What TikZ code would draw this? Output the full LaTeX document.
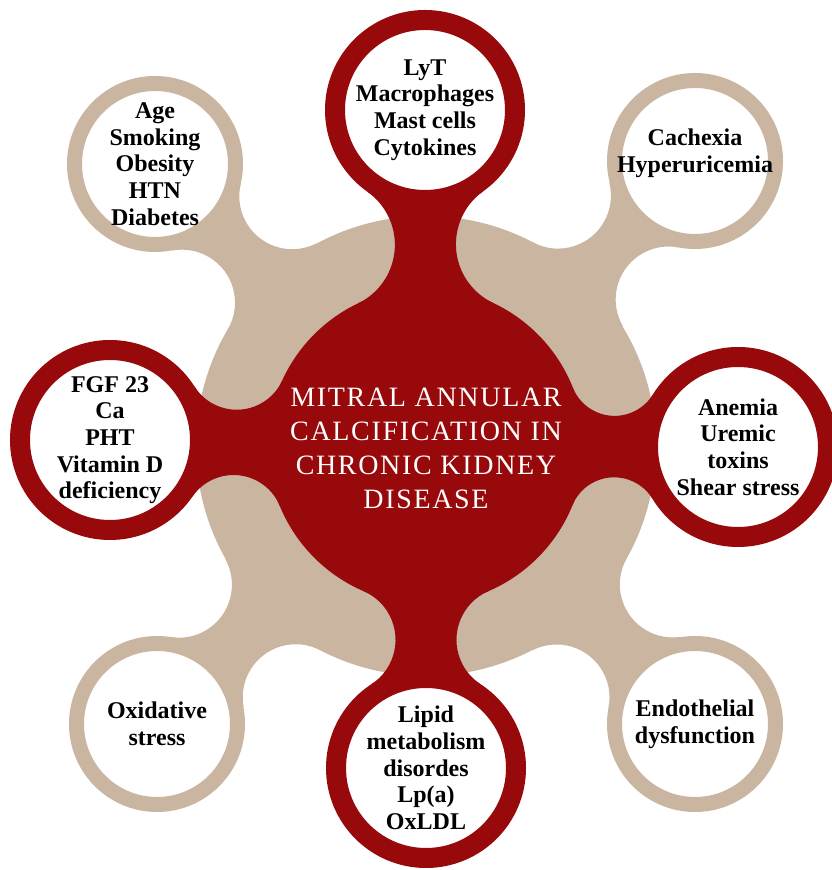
\documentclass[tikz,border=0pt]{standalone}
\usepackage{fontspec}
\setmainfont{Liberation Serif}
\usetikzlibrary{calc}

\definecolor{macred}{RGB}{152,9,12}
\definecolor{mactan}{RGB}{202,181,160}

\pgfdeclarelayer{tanback}
\pgfdeclarelayer{tanfront}
\pgfdeclarelayer{redback}
\pgfsetlayers{tanback,tanfront,redback,main}

% neck from a hub to a satellite, with concave fillets
% #1 colour, #2 hub, #3 hub radius, #4 satellite, #5 satellite radius, #6 fillet radius
\newcommand{\macneck}[6]{%
  \fill[#1] let \p1 = ($(#4)-(#2)$),
      \n1 = {atan2(\y1,\x1)},
      \n2 = {veclen(\x1/7.5,\y1/7.5)},
      \n3 = {acos(((#3+#6)^2+(\n2)^2-(#5+#6)^2)/(2*(\n2)*(#3+#6)))},
      \n4 = {180-acos(((#5+#6)^2+(\n2)^2-(#3+#6)^2)/(2*(\n2)*(#5+#6)))}
    in ($(#2)+(\n1+\n3:#3)$)
      arc[start angle=\n1+\n3+180, end angle=\n1+\n4+180, radius=#6]
      -- ($(#4)+(\n1-\n4:#5)$)
      arc[start angle=\n1-\n4+180, end angle=\n1-\n3+180, radius=#6]
      -- cycle;}

\begin{document}
\begin{tikzpicture}[x=7.5pt, y=7.5pt,
  hubtan/.style={circle, fill=mactan, minimum size=345pt, inner sep=0pt},
  hubred/.style={circle, fill=macred, minimum size=237pt, inner sep=0pt},
  redring/.style={circle, draw=macred, line width=15pt, fill=white, minimum size=135pt, inner sep=0pt},
  tanring/.style={circle, draw=mactan, line width=11.25pt, fill=white, minimum size=120.75pt, inner sep=0pt},
  cause/.style={align=center, inner sep=0pt, font=\bfseries\fontsize{18}{20}\selectfont},
  title/.style={align=center, inner sep=0pt, text=white,
    font=\fontsize{21}{25.5}\selectfont\addfontfeature{LetterSpace=6}}
]

  % -- Canvas --
  \begin{pgfonlayer}{tanback}
    \fill[white] (0,0) rectangle (83.1,87);
  \end{pgfonlayer}
  \useasboundingbox (0,0) rectangle (83.1,87);

  % -- Hubs --
  \begin{pgfonlayer}{tanback}
    \node[hubtan] (base) at (42.6,42.4) {};
  \end{pgfonlayer}
  \node[hubred] (hub) at (42.6,42.4) {};
  \node[title, yshift=-2pt] (title) at (hub) {MITRAL ANNULAR\\CALCIFICATION IN\\CHRONIC KIDNEY\\DISEASE};

  % -- Red satellites --
  \node[redring] (cells)   at (42.5,76.0) {};
  \node[redring] (mineral) at (11.0,43.0) {};
  \node[redring] (blood)   at (73.8,42.3) {};
  \node[redring] (lipid)   at (42.6,10.2) {};

  \node[cause] (cellstxt)   at (cells)   {LyT\\Macrophages\\Mast cells\\Cytokines};
  \node[cause] (mineraltxt) at (mineral) {FGF 23\\Ca\\PHT\\Vitamin D\\deficiency};
  \node[cause] (bloodtxt)   at (blood)   {Anemia\\Uremic\\toxins\\Shear stress};
  \node[cause] (lipidtxt)   at (lipid)   {Lipid\\metabolism\\disordes\\Lp(a)\\OxLDL};

  % -- Tan satellites --
  \begin{pgfonlayer}{tanfront}
    \node[tanring] (risk) at (15.5,70.6) {};
    \node[tanring] (meta) at (69.5,70.9) {};
    \node[tanring] (oxid) at (15.7,14.6) {};
    \node[tanring] (endo) at (69.5,14.6) {};
  \end{pgfonlayer}

  \node[cause] (risktxt) at (risk) {Age\\Smoking\\Obesity\\HTN\\Diabetes};
  \node[cause, yshift=6pt] (metatxt) at (meta) {Cachexia\\Hyperuricemia};
  \node[cause] (oxidtxt) at (oxid) {Oxidative\\stress};
  \node[cause] (endotxt) at (endo) {Endothelial\\dysfunction};

  % -- Necks --
  \begin{pgfonlayer}{tanback}
    \macneck{mactan}{base}{23}{risk}{8.8}{5.3}
    \macneck{mactan}{base}{23}{meta}{8.8}{5.3}
    \macneck{mactan}{base}{23}{oxid}{8.8}{5.3}
    \macneck{mactan}{base}{23}{endo}{8.8}{5.3}
  \end{pgfonlayer}
  \begin{pgfonlayer}{redback}
    \macneck{macred}{hub}{15.8}{cells}{10}{6.5}
    \macneck{macred}{hub}{15.8}{mineral}{10}{5}
    \macneck{macred}{hub}{15.8}{blood}{10}{4.5}
    \macneck{macred}{hub}{15.8}{lipid}{10}{5.3}
  \end{pgfonlayer}

\end{tikzpicture}
\end{document}
